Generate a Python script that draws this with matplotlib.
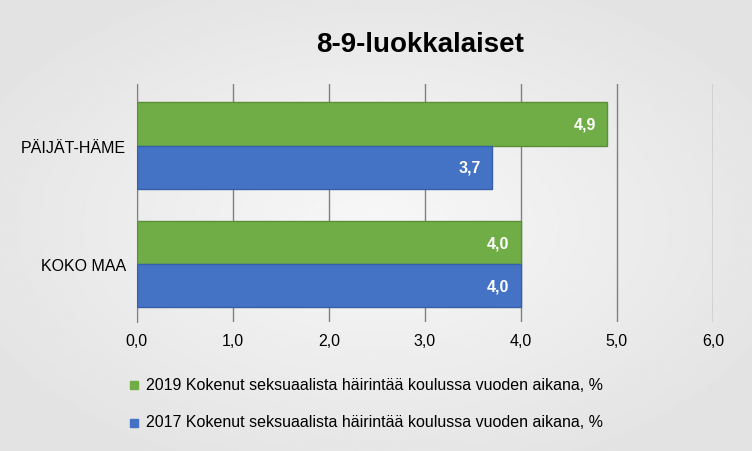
import matplotlib
matplotlib.use("Agg")
import matplotlib.pyplot as plt
import numpy as np
from matplotlib.patches import Rectangle

categories = ["KOKO MAA", "PÄIJÄT-HÄME"]
v2019 = [4.0, 4.9]
v2017 = [4.0, 3.7]
labels2019 = ["4,0", "4,9"]
labels2017 = ["4,0", "3,7"]
ticks = [0, 1, 2, 3, 4, 5, 6]
ticklabels = ["0,0", "1,0", "2,0", "3,0", "4,0", "5,0", "6,0"]
series = ["2019 Kokenut seksuaalista häirintää koulussa vuoden aikana, %",
          "2017 Kokenut seksuaalista häirintää koulussa vuoden aikana, %"]

plt.rcParams["font.family"] = "Liberation Sans"
fig = plt.figure(figsize=(7.52, 4.52), dpi=100)
bg = fig.add_axes([0, 0, 1, 1], zorder=-10)
yy_, xx_ = np.mgrid[-1:1:200j, -1:1:300j]
grad = 0.97 - 0.08 * np.clip(np.sqrt(xx_**2 + yy_**2) / 1.2, 0, 1)
bg.imshow(grad, aspect="auto", cmap="gray", vmin=0, vmax=1, extent=[0, 1, 0, 1])
bg.axis("off")

ax = fig.add_axes([0.182, 0.285, 0.766, 0.527])
ax.patch.set_alpha(0)
h = 0.364
y = np.arange(len(categories))
g = ax.barh(y + h/2, v2019, height=h, color="#70ad47", edgecolor="#5a8f38", linewidth=1, zorder=3)
b = ax.barh(y - h/2, v2017, height=h, color="#4472c4", edgecolor="#3660a8", linewidth=1, zorder=3)
for bars, labs in ((g, labels2019), (b, labels2017)):
    for r, l in zip(bars, labs):
        ax.text(r.get_width() - 0.12, r.get_y() + r.get_height()/2, l, ha="right", va="center",
                color="white", fontweight="bold", fontsize=11.5, zorder=4)
ax.set_xlim(0, 6)
ax.set_ylim(-0.49, 1.52)
ax.set_xticks(ticks)
ax.set_xticklabels(ticklabels, fontsize=11.5)
ax.set_yticks(y)
ax.set_yticklabels(categories, fontsize=11.5)
ax.tick_params(length=0, pad=8)
ax.grid(axis="x", color="#808080", linewidth=1, zorder=0)
for s in ["top", "right", "bottom"]:
    ax.spines[s].set_visible(False)
ax.spines["left"].set_color("#808080")

fig.text(0.558, 0.9, "8-9-luokkalaiset", ha="center", va="center", fontsize=20, fontweight="bold")

for i, (lab, col) in enumerate(zip(series, ["#70ad47", "#4472c4"])):
    yy = 1 - (385 + 38*i)/452
    fig.patches.append(Rectangle((130/752, yy - 0.011), 0.011, 0.018, transform=fig.transFigure, color=col))
    fig.text(146/752, yy, lab, ha="left", va="center", fontsize=11.5)

fig.savefig("out.png", dpi=100)
